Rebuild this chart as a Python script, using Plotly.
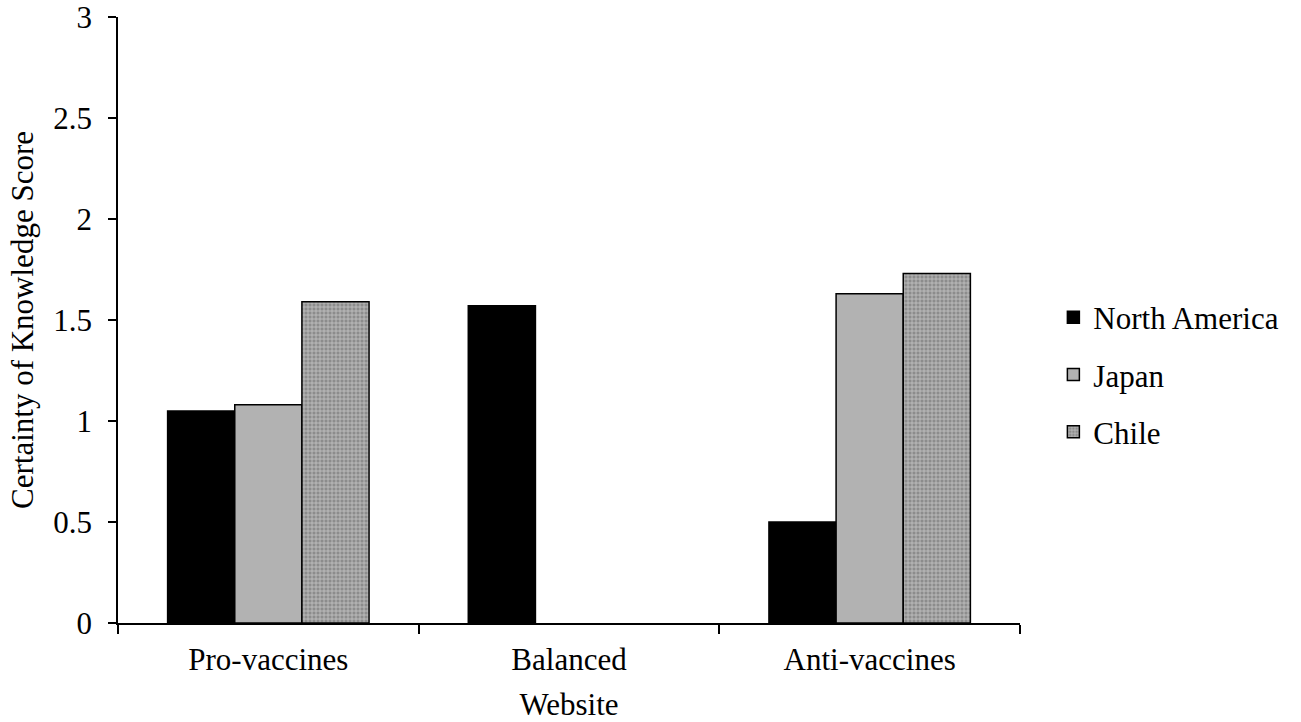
import plotly.graph_objects as go

categories = ["Pro-vaccines", "Balanced", "Anti-vaccines"]
north_america = [1.05, 1.57, 0.50]
japan = [1.08, None, 1.63]
chile = [1.59, None, 1.73]

FONT = "Liberation Serif, Times New Roman, serif"
FS = 31

fig = go.Figure()
fig.add_trace(go.Bar(name="North America", x=categories, y=north_america, legendgroup="a",
                     marker=dict(color="black", line=dict(color="black", width=1.5))))
fig.add_trace(go.Bar(name="Japan", x=categories, y=japan, legendgroup="b",
                     marker=dict(color="#b2b2b2", line=dict(color="black", width=1.5))))
fig.add_trace(go.Bar(name="Chile", x=categories, y=chile, legendgroup="c",
                     marker=dict(color="#8c8c8c", line=dict(color="black", width=1.5),
                                 pattern=dict(shape="+", fgcolor="white", bgcolor="#8c8c8c",
                                              size=4, solidity=0.35, fillmode="overlay"))))

fig.update_layout(
    width=1301, height=722,
    margin=dict(l=118, r=281, t=17, b=99),
    plot_bgcolor="white", paper_bgcolor="white",
    barmode="group", bargap=0.33, bargroupgap=0,
    font=dict(family=FONT, size=FS, color="black"),
    legend=dict(x=1.037, y=0.41, yanchor="middle", xanchor="left",
                font=dict(family=FONT, size=FS), tracegroupgap=14,
                itemwidth=30),
    showlegend=True,
)
fig.update_xaxes(showline=True, linecolor="black", linewidth=1.5,
                 ticks="outside", tickson="boundaries", ticklen=9, tickcolor="black",
                 tickwidth=1.5, showgrid=False, automargin=False, ticklabelstandoff=8,
                 title=dict(text="Website", font=dict(family=FONT, size=FS), standoff=18),
                 tickfont=dict(family=FONT, size=FS))
fig.update_yaxes(range=[0, 3], dtick=0.5, showline=True, linecolor="black", linewidth=1.5,
                 ticks="outside", ticklen=8, tickcolor="black", tickwidth=1.5,
                 showgrid=False, zeroline=False, automargin=False, ticklabelstandoff=10,
                 ticklabeloverflow="allow",
                 title=dict(text="Certainty of Knowledge Score", font=dict(family=FONT, size=FS), standoff=10),
                 tickfont=dict(family=FONT, size=FS))

fig.write_html("out.html", config={"displayModeBar": False},
               post_script="document.body.style.margin='0';")
